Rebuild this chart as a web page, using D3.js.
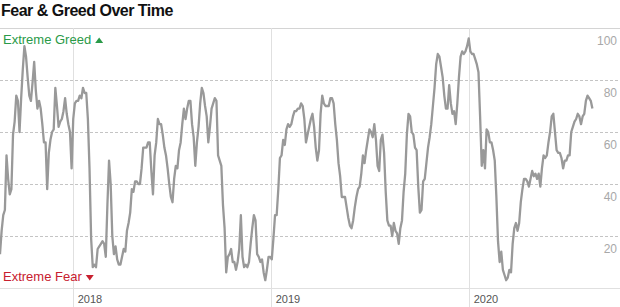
<!DOCTYPE html>
<html>
<head>
<meta charset="utf-8">
<script src="https://cdn.jsdelivr.net/npm/d3@7"></script>
<style>
  body { margin: 0; background: #fff; }
  svg { display: block; font-family: "Liberation Sans", Arial, sans-serif; }
</style>
</head>
<body>
<svg id="chart"></svg>
<script>
// Data: one reading every 3 days, starting 2017-08-20
const startDate = "2017-08-20";
const stepDays = 3;
const fearGreed = [
  13,22,28,30,51,42,36,38,59,64, 74,72,60,73,84,93,89,81,74,72,
  79,87,76,69,72,69,63,56,56,38, 52,57,60,61,77,70,62,64,65,68,
  73,67,63,60,46,65,71,72,72,74, 73,77,75,75,65,46,19,8,9,8,
  15,16,17,18,17,12,32,49,40,20, 13,16,11,9,9,12,15,14,22,25,
  29,38,37,41,41,40,40,46,54,54, 54,56,56,45,36,51,56,65,63,63,
  59,54,51,46,40,35,33,42,47,46, 53,56,63,69,65,69,72,72,63,58,
  47,56,62,71,77,75,70,66,56,62, 69,71,73,72,51,49,47,32,23,6,
  12,13,15,10,10,7,10,15,28,12, 8,9,8,10,17,23,28,26,13,12,
  10,11,6,3,7,12,12,11,19,28, 28,38,50,51,57,55,61,63,62,63,
  66,68,68,69,69,71,70,65,56,59, 62,65,67,62,54,49,53,67,74,71,
  70,70,70,73,73,71,63,57,48,43, 35,35,35,31,27,24,23,26,31,35,
  38,39,44,51,48,53,57,61,60,58, 63,57,47,45,57,59,52,37,26,24,
  24,20,25,22,21,17,23,26,37,44, 59,67,66,60,59,54,53,39,29,30,
  41,42,48,54,58,63,70,77,86,90, 89,85,81,74,69,69,78,71,67,68,
  63,71,81,89,91,90,91,93,96,91, 90,90,88,86,83,66,47,53,46,61,
  60,56,56,53,49,35,18,10,14,7, 5,3,4,7,6,17,23,25,22,25,
  33,38,42,42,41,39,42,45,43,44, 42,44,39,46,51,50,51,56,60,66,
  67,60,53,52,52,50,46,49,49,51, 51,60,62,64,65,67,66,63,66,67,
  72,74,73,72,69
];
const yTicks = [20, 40, 60, 80, 100];
const yearTicks = ["2018-01-01", "2019-01-01", "2020-01-01"];
const titleText = "Fear & Greed Over Time";
const greedLabel = "Extreme Greed";
const fearLabel = "Extreme Fear";

const width = 620, height = 307;
const margin = {top: 28, right: 27.6, bottom: 19, left: 0};

const parseDate = d3.utcParse("%Y-%m-%d");
const start = parseDate(startDate);
const data = fearGreed.map((v, i) => ({date: d3.utcDay.offset(start, i * stepDays), value: v}));

const svg = d3.select("#chart")
  .attr("width", width)
  .attr("height", height);

const x = d3.scaleUtc()
  .domain(d3.extent(data, d => d.date))
  .range([margin.left, width - margin.right]);

const y = d3.scaleLinear()
  .domain([0, 100])
  .range([height - margin.bottom, margin.top]);

// title
svg.append("text")
  .attr("x", 1)
  .attr("y", 16)
  .attr("font-size", 16)
  .attr("font-weight", "bold")
  .attr("letter-spacing", "-0.5px")
  .attr("fill", "#111")
  .text(titleText);

// top and bottom frame lines
svg.append("line")
  .attr("x1", 0).attr("x2", width)
  .attr("y1", y(100) + 0.5).attr("y2", y(100) + 0.5)
  .attr("stroke", "#d4d4d4");
svg.append("line")
  .attr("x1", 0).attr("x2", width)
  .attr("y1", y(0) + 0.5).attr("y2", y(0) + 0.5)
  .attr("stroke", "#e0e0e0");

// dashed gridlines
svg.append("g")
  .selectAll("line")
  .data(yTicks.filter(t => t < 100))
  .join("line")
  .attr("x1", 0).attr("x2", width)
  .attr("y1", d => Math.round(y(d)) + 0.5)
  .attr("y2", d => Math.round(y(d)) + 0.5)
  .attr("stroke", "#c4c4c4")
  .attr("stroke-dasharray", "3,2");

// right tick labels
svg.append("g")
  .selectAll("text")
  .data(yTicks)
  .join("text")
  .attr("x", width - 3)
  .attr("y", d => y(d) + 17)
  .attr("text-anchor", "end")
  .attr("font-size", 12)
  .attr("fill", "#a8a8a8")
  .text(d => d);

// year lines and labels
const years = yearTicks.map(parseDate);
svg.append("g")
  .selectAll("line")
  .data(years)
  .join("line")
  .attr("x1", d => Math.round(x(d)) + 0.5)
  .attr("x2", d => Math.round(x(d)) + 0.5)
  .attr("y1", y(100))
  .attr("y2", height)
  .attr("stroke", "#e0e0e0");

svg.append("g")
  .selectAll("text")
  .data(years)
  .join("text")
  .attr("x", d => x(d) + 5)
  .attr("y", height - 4)
  .attr("font-size", 11)
  .attr("fill", "#555")
  .text(d => d.getUTCFullYear());

// the line
const line = d3.line()
  .x(d => x(d.date))
  .y(d => y(d.value));

svg.append("path")
  .datum(data)
  .attr("fill", "none")
  .attr("stroke", "#999")
  .attr("stroke-width", 2.3)
  .attr("stroke-linejoin", "round")
  .attr("d", line);

// extreme labels
const greed = svg.append("text")
  .attr("x", 3)
  .attr("y", 44)
  .attr("font-size", 13)
  .attr("fill", "#2a9a48")
  .text(greedLabel);
const gw = greed.node().getComputedTextLength();
svg.append("path")
  .attr("d", `M${3 + gw + 4},43 l8,0 l-4,-5.5 z`)
  .attr("fill", "#2a9a48");

const fear = svg.append("text")
  .attr("x", 3)
  .attr("y", 281)
  .attr("font-size", 13)
  .attr("fill", "#c8202f")
  .text(fearLabel);
const fw = fear.node().getComputedTextLength();
svg.append("path")
  .attr("d", `M${3 + fw + 4},275 l8,0 l-4,5.5 z`)
  .attr("fill", "#c8202f");
</script>
</body>
</html>
